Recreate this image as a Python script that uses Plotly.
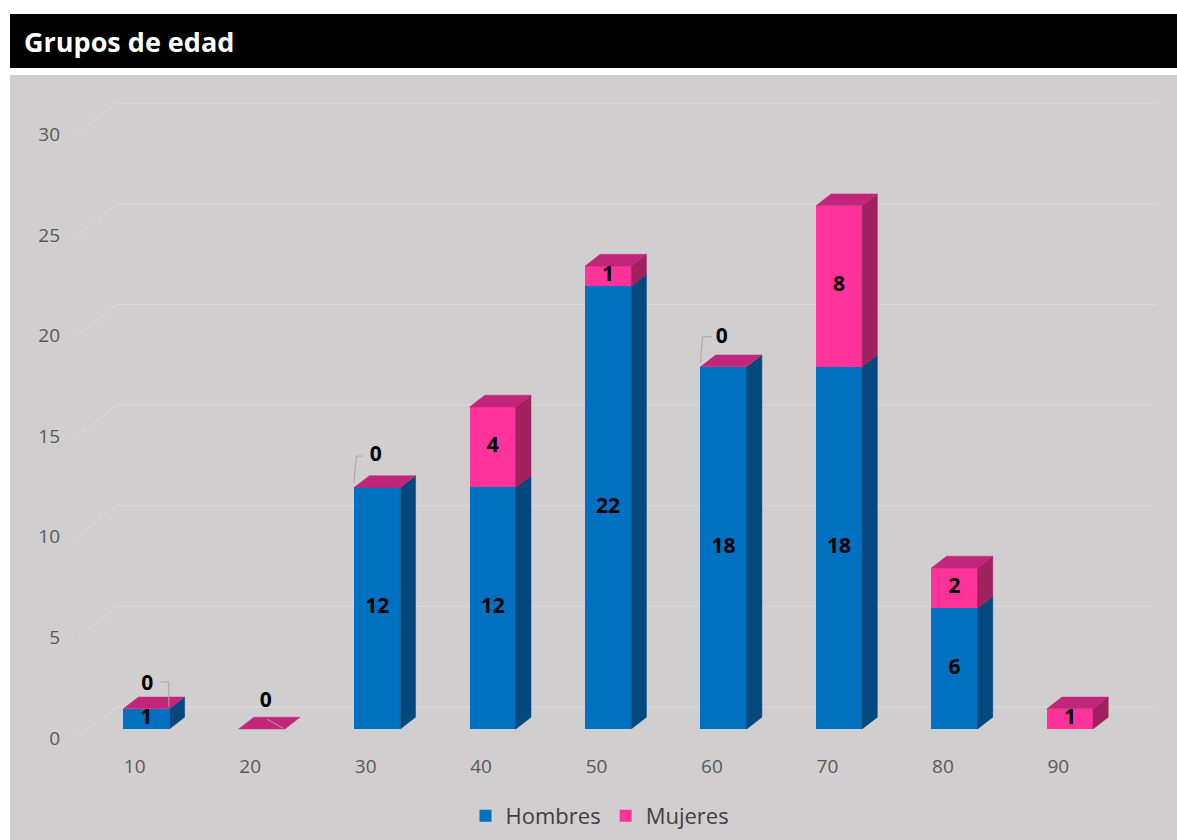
import plotly.graph_objects as go

# ---------------- data ----------------
categories = ["10", "20", "30", "40", "50", "60", "70", "80", "90"]
hombres = [1, 0, 12, 12, 22, 18, 18, 6, 0]
mujeres = [0, 0, 0, 4, 1, 0, 8, 2, 1]
y_ticks = [0, 5, 10, 15, 20, 25, 30]

# ---------------- styling / geometry ----------------
W, H = 1177, 840
ML, MR, MT, MB = 77, 21, 98, 96
X_RANGE = [-0.5, 8.846]
Y_RANGE = [-0.3, 31.8]
PX_PER_X = (W - ML - MR) / (X_RANGE[1] - X_RANGE[0])
PX_PER_Y = (H - MT - MB) / (Y_RANGE[1] - Y_RANGE[0])

X_DEPTH = 40 / PX_PER_X      # full floor depth offset (x units)
Y_DEPTH = 31 / PX_PER_Y      # full floor depth offset (y units)
D0, D1 = 0.29, 0.67          # bar front / back depth
HALF_W = 0.2

BG = "#D0CECF"
GRID = "#DDDBDC"
BLUE, BLUE_SIDE = "#0070C0", "#00487E"
PINK, PINK_SIDE, PINK_TOP = "#FF3399", "#A1205E", "#C2267A"
FONT = "Open Sans"

fdx0, fdy0 = X_DEPTH * D0, Y_DEPTH * D0
bdx = X_DEPTH * (D1 - D0)
bdy = Y_DEPTH * (D1 - D0)

n = len(categories)
xi = list(range(n))
xf = [i + fdx0 for i in xi]  # bar front face centers

fig = go.Figure()

# front faces as bars
fig.add_trace(go.Bar(x=xf, y=hombres, base=[fdy0] * n, width=2 * HALF_W,
                     marker=dict(color=BLUE, line=dict(width=0)), name="Hombres"))
fig.add_trace(go.Bar(x=xf, y=mujeres, base=[h + fdy0 for h in hombres], width=2 * HALF_W,
                     marker=dict(color=PINK, line=dict(width=0)), name="Mujeres"))


def side_poly(xr, y0, y1):
    return ([xr, xr + bdx, xr + bdx, xr, xr, None],
            [y0, y0 + bdy, y1 + bdy, y1, y0, None])


def top_poly(xl, xr, yt):
    return ([xl, xr, xr + bdx, xl + bdx, xl, None],
            [yt, yt, yt + bdy, yt + bdy, yt, None])


bsx, bsy, psx, psy, ptx, pty = [], [], [], [], [], []
for i in xi:
    xl, xr = xf[i] - HALF_W, xf[i] + HALF_W
    h, m = hombres[i], mujeres[i]
    if h > 0:
        a, b = side_poly(xr, fdy0, h + fdy0)
        bsx += a; bsy += b
    if m > 0:
        a, b = side_poly(xr, h + fdy0, h + m + fdy0)
        psx += a; psy += b
    a, b = top_poly(xl, xr, h + m + fdy0)
    ptx += a; pty += b

for px_, py_, col in [(bsx, bsy, BLUE_SIDE), (psx, psy, PINK_SIDE), (ptx, pty, PINK_TOP)]:
    fig.add_trace(go.Scatter(x=px_, y=py_, mode="lines", fill="toself", fillcolor=col,
                             line=dict(width=0.5, color=col), hoverinfo="skip", showlegend=False))

# value labels on front faces
lx, ly, lt = [], [], []
for i in xi:
    h, m = hombres[i], mujeres[i]
    if h > 0:
        lx.append(xf[i]); ly.append(fdy0 + h / 2); lt.append(str(h))
    if m > 0:
        lx.append(xf[i]); ly.append(fdy0 + h + m / 2); lt.append(str(m))
fig.add_trace(go.Scatter(x=lx, y=ly, text=lt, mode="text",
                         textfont=dict(family=FONT, size=21, color="black", weight="bold"),
                         hoverinfo="skip", showlegend=False))

# zero labels with leader lines (pixel offsets from front-top-center)
zero_idx = [i for i, m in enumerate(mujeres) if m == 0]
zero_style = {
    0: ((1, -24.4), [(14.5, -27), (22.5, -27), (22.5, -2)]),
    1: ((4, -27.5), [(5.3, -9.7), (21.3, -0.7)]),
    2: ((-1.4, -32), [(-14.4, -31.4), (-20.7, -31.4), (-23.4, -4.4)]),
    5: ((-1.8, -29.2), [(-12.1, -30), (-21.1, -30), (-23.1, -3.7)]),
}
zx, zy, zt, llx, lly = [], [], [], [], []
for i in zero_idx:
    cx, cy = xf[i], hombres[i] + mujeres[i] + fdy0
    (ox, oy), pts = zero_style[i]
    zx.append(cx + ox / PX_PER_X); zy.append(cy - oy / PX_PER_Y); zt.append(str(mujeres[i]))
    for (px_, py_) in pts:
        llx.append(cx + px_ / PX_PER_X); lly.append(cy - py_ / PX_PER_Y)
    llx.append(None); lly.append(None)
fig.add_trace(go.Scatter(x=llx, y=lly, mode="lines", line=dict(color="#A6A6A6", width=1),
                         hoverinfo="skip", showlegend=False))
fig.add_trace(go.Scatter(x=zx, y=zy, text=zt, mode="text",
                         textfont=dict(family=FONT, size=21, color="black", weight="bold"),
                         hoverinfo="skip", showlegend=False))


def fx(px_):
    return (px_ - ML) / (W - ML - MR)


def fy(py_):
    return (H - MB - py_) / (H - MT - MB)


shapes = [
    dict(type="rect", xref="paper", yref="paper", x0=fx(0), x1=fx(W), y0=fy(75), y1=fy(0),
         fillcolor="white", line=dict(width=0), layer="below"),
    dict(type="rect", xref="paper", yref="paper", x0=fx(0), x1=fx(10), y0=fy(H), y1=fy(0),
         fillcolor="white", line=dict(width=0), layer="below"),
    dict(type="rect", xref="paper", yref="paper", x0=fx(10), x1=fx(W), y0=fy(68), y1=fy(14),
         fillcolor="black", line=dict(width=0), layer="below"),
]
# gridlines: front-left slant + back wall, drawn below the bars
for v in y_ticks:
    pts = [(X_RANGE[0], v), (X_RANGE[0] + X_DEPTH, v + Y_DEPTH), (X_RANGE[1], v + Y_DEPTH)]
    path = "M {} {} L {} {} L {} {}".format(*[c for p in pts for c in p])
    shapes.append(dict(type="path", xref="x", yref="y", path=path,
                       line=dict(color=GRID, width=1), layer="below"))

fig.update_layout(
    width=W, height=H, autosize=False,
    margin=dict(l=ML, r=MR, t=MT, b=MB, pad=0, autoexpand=False),
    paper_bgcolor=BG, plot_bgcolor="rgba(0,0,0,0)",
    barmode="overlay", bargap=0,
    shapes=shapes,
    annotations=[dict(text="<b>Grupos de edad</b>", xref="paper", yref="paper",
                      x=fx(22), y=fy(41), xanchor="left", yanchor="middle", showarrow=False,
                      font=dict(family=FONT, size=27, color="white"))],
    xaxis=dict(range=X_RANGE, tickvals=xi, ticktext=categories, showgrid=False, zeroline=False,
               showline=False, ticks="", tickfont=dict(family=FONT, size=19, color="#595959"),
               ticklabelstandoff=9, fixedrange=True),
    yaxis=dict(range=Y_RANGE, tickvals=y_ticks, showgrid=False, zeroline=False, showline=False,
               ticks="", tickfont=dict(family=FONT, size=19, color="#595959"),
               ticklabelstandoff=16, fixedrange=True),
    legend=dict(orientation="h", x=fx(600), xanchor="center", y=fy(816), yanchor="middle",
                font=dict(family=FONT, size=22, color="#404040"), bgcolor="rgba(0,0,0,0)",
                traceorder="normal"),
    showlegend=True,
)

fig.write_html("out.html")
